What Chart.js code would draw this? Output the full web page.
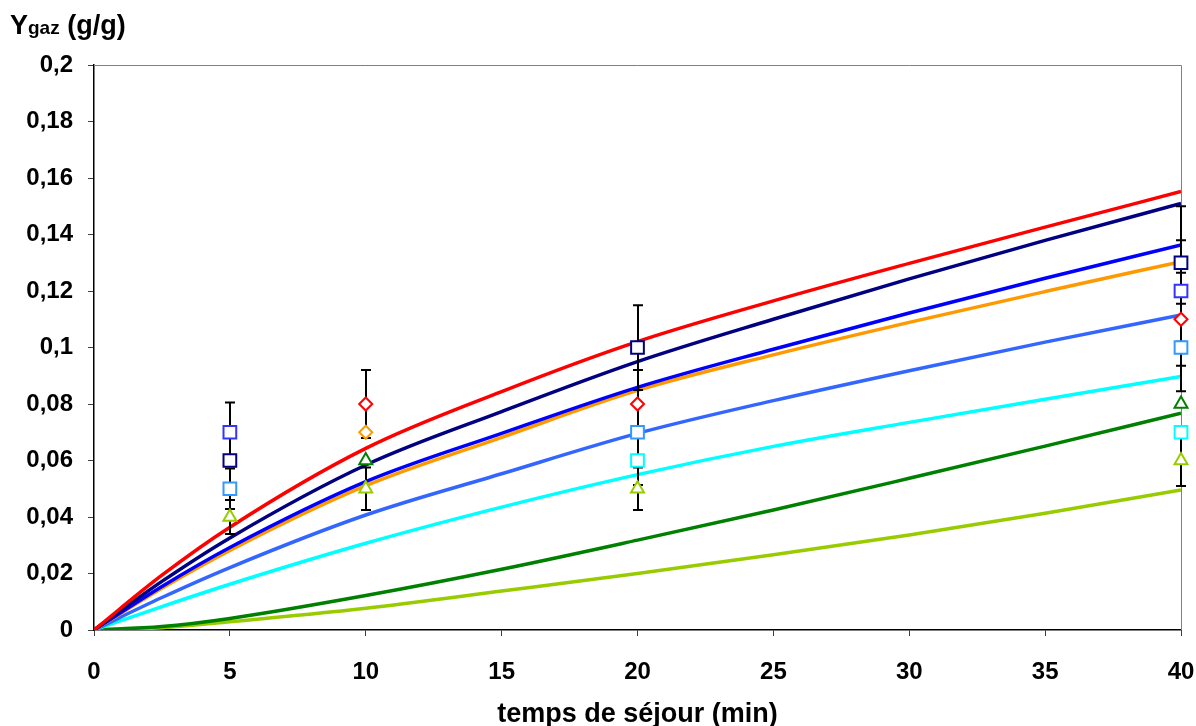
<!DOCTYPE html>
<html><head><meta charset="utf-8">
<script src="https://cdn.jsdelivr.net/npm/chart.js@4.4.1/dist/chart.umd.min.js"></script>
<style>
html,body{margin:0;padding:0;background:#fff;}
#wrap{position:relative;width:1196px;height:726px;}
#ytitle{position:absolute;left:10px;top:10px;font:bold 27px "Liberation Sans",Arial,sans-serif;color:#000;white-space:nowrap;}
#ytitle span{font-size:19px;}
</style></head><body>
<div id="wrap"><canvas id="c" width="1196" height="726"></canvas><div id="ytitle">Y<span>gaz</span> (g/g)</div></div>
<script>
// ---- data ----
const curveX = [0, 2.5, 5, 10, 15, 20, 25, 30, 35, 40];
const curveRed        = [0, 0.0194, 0.0364, 0.0643, 0.0844, 0.1021, 0.1165, 0.1298, 0.1426, 0.1552];
const curveNavy       = [0, 0.0172, 0.0326, 0.0584, 0.0773, 0.0950, 0.1100, 0.1243, 0.1379, 0.1510];
const curveBlue       = [0, 0.0154, 0.0292, 0.0525, 0.0696, 0.0859, 0.0994, 0.1122, 0.1245, 0.1363];
const curveOrange     = [0, 0.0148, 0.0282, 0.0511, 0.0682, 0.0848, 0.0974, 0.1089, 0.1198, 0.1304];
const curveCornflower = [0, 0.0115, 0.0221, 0.0407, 0.0553, 0.0696, 0.0812, 0.0918, 0.1019, 0.1115];
const curveCyan       = [0, 0.0083, 0.0162, 0.0307, 0.0435, 0.0550, 0.0650, 0.0735, 0.0817, 0.0897];
const curveGreen      = [0, 0.0012, 0.0041, 0.0122, 0.0215, 0.0318, 0.0425, 0.0537, 0.0651, 0.0767];
const curveYellowGreen= [0, 0.0008, 0.0029, 0.0077, 0.0138, 0.0200, 0.0266, 0.0336, 0.0413, 0.0496];

const sampleX = [5, 10, 20, 40];
const ptsBlue        = [0.07, null, null, 0.12];
const errBlue        = [0.0105, null, null, 0.018];
const ptsNavy        = [0.06, null, 0.10, 0.13];
const errNavy        = [0, null, 0.015, 0.02];
const ptsCornflower  = [0.05, null, 0.07, 0.10];
const errCornflower  = [0.0072, null, 0, 0.0155];
const ptsCyan        = [null, null, 0.06, 0.07];
const errCyan        = [null, null, 0.0087, 0];
const ptsRed         = [null, 0.08, 0.08, 0.11];
const errRed         = [null, 0.012, 0.012, 0.0165];
const ptsOrange      = [null, 0.07, null, null];
const errOrange      = [null, 0, null, null];
const ptsGreen       = [null, 0.06, null, 0.08];
const errGreen       = [null, 0, null, 0];
const ptsYellowGreen = [0.04, 0.05, 0.05, 0.06];
const errYellowGreen = [0.006, 0.0075, 0.0075, 0.009];

const xTickValues = [0, 5, 10, 15, 20, 25, 30, 35, 40];
const yTickLabels = ['0', '0,02', '0,04', '0,06', '0,08', '0,1', '0,12', '0,14', '0,16', '0,18', '0,2'];

// ---- build ----
const FONT = '"Liberation Sans", Arial, sans-serif';
function xy(xs, ys) { return xs.map((x, i) => ys[i] == null ? null : { x: x, y: ys[i] }).filter(p => p); }
function curve(ys, color) {
  return { data: xy(curveX, ys), showLine: true, borderColor: color, borderWidth: 3.5, pointRadius: 0,
           cubicInterpolationMode: 'monotone', fill: false, order: 1 };
}
function marks(ys, errs, color, style, r) {
  const ds = { data: [], err: [], showLine: false, pointStyle: style, pointRadius: r, pointHoverRadius: r,
               borderColor: color, backgroundColor: '#fff', pointBorderWidth: 2, borderWidth: 2, order: 0,
               isMark: true, clip: false };
  sampleX.forEach((x, i) => { if (ys[i] != null) { ds.data.push({ x: x, y: ys[i] }); ds.err.push(errs[i] || 0); } });
  return ds;
}

const datasets = [
  curve(curveRed, '#FF0000'),
  curve(curveNavy, '#000080'),
  curve(curveBlue, '#0000FF'),
  curve(curveOrange, '#FF9900'),
  curve(curveCornflower, '#3366FF'),
  curve(curveCyan, '#00FFFF'),
  curve(curveGreen, '#008000'),
  curve(curveYellowGreen, '#99CC00'),
  marks(ptsBlue, errBlue, '#3333FF', 'rect', 9),
  marks(ptsNavy, errNavy, '#000080', 'rect', 9),
  marks(ptsCornflower, errCornflower, '#3399FF', 'rect', 9),
  marks(ptsCyan, errCyan, '#00FFFF', 'rect', 9),
  marks(ptsRed, errRed, '#FF0000', 'rectRot', 6.5),
  marks(ptsOrange, errOrange, '#FF9900', 'rectRot', 6.5),
  marks(ptsGreen, errGreen, '#008000', 'triangle', 7.5),
  marks(ptsYellowGreen, errYellowGreen, '#99CC00', 'triangle', 7.5)
];

const frame = {
  id: 'frame',
  beforeDatasetsDraw(chart) {
    const a = chart.chartArea, ctx = chart.ctx;
    ctx.save(); ctx.strokeStyle = '#808080'; ctx.lineWidth = 1;
    ctx.beginPath(); ctx.moveTo(a.left, a.top + 0.5); ctx.lineTo(a.right + 0.5, a.top + 0.5); ctx.lineTo(a.right + 0.5, a.bottom); ctx.stroke();
    ctx.restore();
    chart._ebDone = false;
  },
  beforeDatasetDraw(chart, args) {
    if (chart._ebDone) return;
    const ds = chart.data.datasets[args.index];
    if (!ds.isMark) return;
    chart._ebDone = true;
    const xs = chart.scales.x, ys = chart.scales.y, ctx = chart.ctx;
    ctx.save(); ctx.strokeStyle = '#000'; ctx.lineWidth = 2;
    chart.data.datasets.forEach(d => {
      if (!d.isMark) return;
      d.data.forEach((p, i) => {
        const e = d.err[i]; if (!e) return;
        const px = Math.round(xs.getPixelForValue(p.x));
        const t = ys.getPixelForValue(p.y + e), b = ys.getPixelForValue(p.y - e);
        ctx.beginPath();
        ctx.moveTo(px, t); ctx.lineTo(px, b);
        ctx.moveTo(px - 5, t); ctx.lineTo(px + 5, t);
        ctx.moveTo(px - 5, b); ctx.lineTo(px + 5, b);
        ctx.stroke();
      });
    });
    ctx.restore();
  }
};

new Chart(document.getElementById('c'), {
  type: 'scatter',
  data: { datasets: datasets },
  plugins: [frame],
  options: {
    responsive: false, animation: false, devicePixelRatio: 1,
    layout: { padding: { left: 0, top: 65, right: 15, bottom: 0 } },
    plugins: { legend: { display: false }, tooltip: { enabled: false } },
    scales: {
      x: {
        type: 'linear', min: 0, max: 40,
        afterBuildTicks(s) { s.ticks = xTickValues.map(v => ({ value: v })); },
        afterFit(s) { s.height = 96; s.paddingLeft = 0; s.paddingRight = 0; },
        ticks: { color: '#000', font: { family: FONT, size: 24, weight: 'bold' }, padding: 22, maxRotation: 0 },
        grid: { drawOnChartArea: false, drawTicks: true, tickLength: 6, color: '#404040', lineWidth: 1 },
        border: { display: true, color: '#000', width: 1.5 },
        title: { display: true, text: 'temps de séjour (min)', color: '#000',
                 font: { family: FONT, size: 27, weight: 'bold', lineHeight: 0.85 }, padding: { top: 0, bottom: 0 } }
      },
      y: {
        type: 'linear', min: 0, max: 0.2,
        afterBuildTicks(s) { s.ticks = yTickLabels.map((l, i) => ({ value: i * 0.02 })); },
        afterFit(s) { s.width = 94; },
        ticks: { color: '#000', font: { family: FONT, size: 24, weight: 'bold' }, padding: 15,
                 callback: (v, i) => yTickLabels[i] },
        grid: { drawOnChartArea: false, drawTicks: true, tickLength: 6, color: '#404040', lineWidth: 1 },
        border: { display: true, color: '#000', width: 1.5 }
      }
    }
  }
});
</script>
</body></html>
